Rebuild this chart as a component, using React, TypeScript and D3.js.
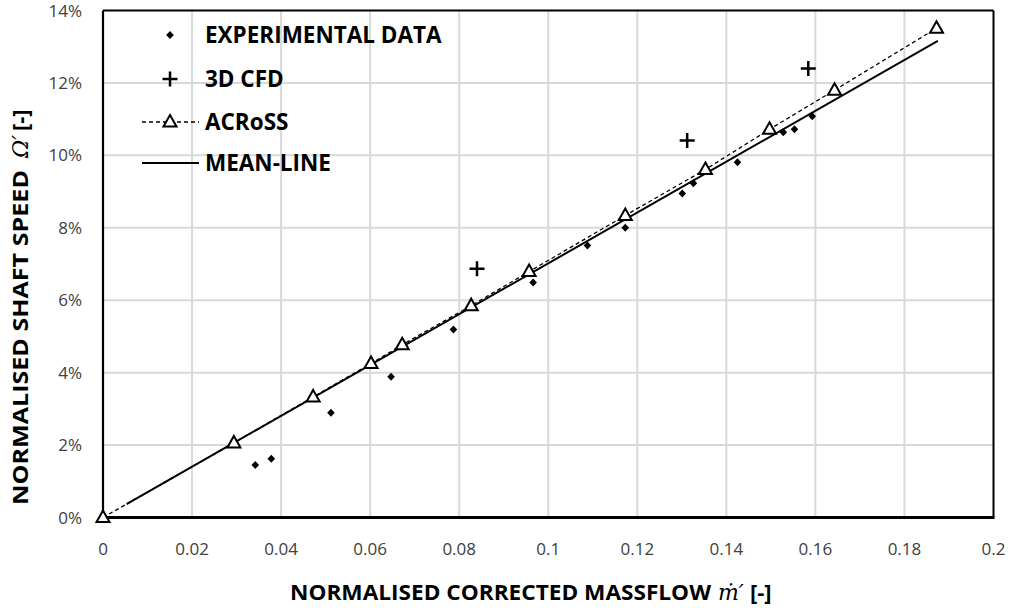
import React from "react";
import * as d3 from "d3";

// Axis ticks
const xTicks = [0, 0.02, 0.04, 0.06, 0.08, 0.1, 0.12, 0.14, 0.16, 0.18, 0.2];
const yTicks = [0, 2, 4, 6, 8, 10, 12, 14];

// Experimental measurements (massflow, shaft speed %)
const expX = [0.0342, 0.0378, 0.0512, 0.0647, 0.0787, 0.0966, 0.1088, 0.1173, 0.1301, 0.1326, 0.1425, 0.1528, 0.1553, 0.1593];
const expY = [1.45, 1.62, 2.89, 3.89, 5.19, 6.49, 7.51, 8.0, 8.95, 9.23, 9.81, 10.64, 10.72, 11.08];

// 3D CFD results
const cfdX = [0.084, 0.1312, 0.1584];
const cfdY = [6.87, 10.41, 12.4];

// ACRoSS predictions
const acrossX = [0, 0.0294, 0.0472, 0.0602, 0.0672, 0.0827, 0.0957, 0.1173, 0.1353, 0.1497, 0.1643, 0.1872];
const acrossY = [0, 2.06, 3.33, 4.25, 4.77, 5.85, 6.79, 8.34, 9.61, 10.72, 11.8, 13.51];

// Mean-line model
const meanX = [0.0053, 0.1875];
const meanY = [0.37, 13.16];

const W = 1011;
const H = 612;
const L = 103;
const R = 993.5;
const T = 10.5;
const B = 517.5;

const FONT = "'Open Sans', 'Liberation Sans', sans-serif";

export default function App() {
  const x = d3.scaleLinear().domain([0, 0.2]).range([L, R]);
  const y = d3.scaleLinear().domain([0, 14]).range([B, T]);

  const line = d3.line<[number, number]>().x((d) => x(d[0])).y((d) => y(d[1]));
  const acrossPts = acrossX.map((v, i) => [v, acrossY[i]] as [number, number]);
  const meanPts = meanX.map((v, i) => [v, meanY[i]] as [number, number]);

  const tri = "M0,-7 L6.5,4.5 L-6.5,4.5 Z";
  const diamond = "M0,-4 L3.8,0 L0,4 L-3.8,0 Z";
  const plus = (s: number) => `M${-s},0 H${s} M0,${-s} V${s}`;

  const fmtX = (v: number) => (v === 0 ? "0" : String(+v.toFixed(2)));

  const legendRows = [35, 79, 122, 163];
  const legX = 170;

  return (
    <svg
      width={W}
      height={H}
      style={{ position: "absolute", left: 0, top: 0, background: "#fff" }}
      fontFamily={FONT}
    >
      <rect x={0} y={0} width={W} height={H} fill="#fff" />
      {/* grid */}
      {xTicks.slice(1, -1).map((t) => (
        <line key={"gx" + t} x1={x(t)} x2={x(t)} y1={T} y2={B} stroke="#d9d9d9" strokeWidth={2} />
      ))}
      {yTicks.slice(1, -1).map((t) => (
        <line key={"gy" + t} x1={L} x2={R} y1={y(t)} y2={y(t)} stroke="#d9d9d9" strokeWidth={2} />
      ))}
      {/* plot frame */}
      <line x1={L} x2={R} y1={T} y2={T} stroke="#000" strokeWidth={2} />
      <line x1={R} x2={R} y1={T} y2={B} stroke="#000" strokeWidth={2} />
      <line x1={L} x2={L} y1={T} y2={B} stroke="#000" strokeWidth={2.2} />
      <line x1={L - 1} x2={R + 1} y1={B} y2={B} stroke="#000" strokeWidth={3} />

      {/* tick labels */}
      {yTicks.map((t) => (
        <text key={"ty" + t} x={82} y={y(t)} dy="0.36em" textAnchor="end" fontSize={17} fill="#404040">
          {t + "%"}
        </text>
      ))}
      {xTicks.map((t) => (
        <text key={"tx" + t} x={x(t)} y={555} textAnchor="middle" fontSize={17} fill="#404040">
          {fmtX(t)}
        </text>
      ))}

      {/* series lines */}
      <path d={line(acrossPts) || ""} fill="none" stroke="#000" strokeWidth={1.3} strokeDasharray="4,3" />
      <path d={line(meanPts) || ""} fill="none" stroke="#000" strokeWidth={2} />

      {/* experimental data */}
      {expX.map((v, i) => (
        <path key={"e" + i} d={diamond} transform={`translate(${x(v)},${y(expY[i])})`} fill="#000" />
      ))}
      {/* 3D CFD */}
      {cfdX.map((v, i) => (
        <path key={"c" + i} d={plus(7.5)} transform={`translate(${x(v)},${y(cfdY[i])})`} stroke="#000" strokeWidth={2.5} fill="none" />
      ))}
      {/* ACRoSS markers */}
      {acrossX.map((v, i) => (
        <path key={"a" + i} d={tri} transform={`translate(${x(v)},${y(acrossY[i])})`} fill="#fff" stroke="#000" strokeWidth={2} />
      ))}

      {/* legend */}
      <path d={diamond} transform={`translate(${legX},${legendRows[0]})`} fill="#000" />
      <path d={plus(7.5)} transform={`translate(${legX},${legendRows[1]})`} stroke="#000" strokeWidth={2.5} fill="none" />
      <line x1={142} x2={199} y1={legendRows[2]} y2={legendRows[2]} stroke="#000" strokeWidth={1.3} strokeDasharray="4,3" />
      <path d={tri} transform={`translate(${legX},${legendRows[2]})`} fill="#fff" stroke="#000" strokeWidth={2} />
      <line x1={142} x2={199} y1={legendRows[3]} y2={legendRows[3]} stroke="#000" strokeWidth={2} />
      {["EXPERIMENTAL DATA", "3D CFD", "ACRoSS", "MEAN-LINE"].map((s, i) => (
        <text key={s} x={205} y={legendRows[i]} dy="0.36em" fontSize={22.5} fontWeight="bold" fill="#000">
          {s}
        </text>
      ))}

      {/* x axis title */}
      <text x={290} y={600} fontSize={22} fontWeight="bold" fill="#000" textLength={421} lengthAdjust="spacingAndGlyphs">
        NORMALISED CORRECTED MASSFLOW
      </text>
      <text x={718} y={600} fontSize={22} fontStyle="italic" fontFamily="'DejaVu Serif', serif" fill="#000">
        ṁ′
      </text>
      <text x={750} y={600} fontSize={22} fontWeight="bold" fill="#000">
        [-]
      </text>

      {/* y axis title */}
      <g transform="translate(28,0) rotate(-90)">
        <text x={-505} y={0} fontSize={22} fontWeight="bold" fill="#000" textLength={335} lengthAdjust="spacingAndGlyphs">
          NORMALISED SHAFT SPEED
        </text>
        <text x={-158} y={0} fontSize={22} fontStyle="italic" fontFamily="'DejaVu Serif', serif" fill="#000">
          Ω′
        </text>
        <text x={-131} y={0} fontSize={22} fontWeight="bold" fill="#000">
          [-]
        </text>
      </g>
    </svg>
  );
}
